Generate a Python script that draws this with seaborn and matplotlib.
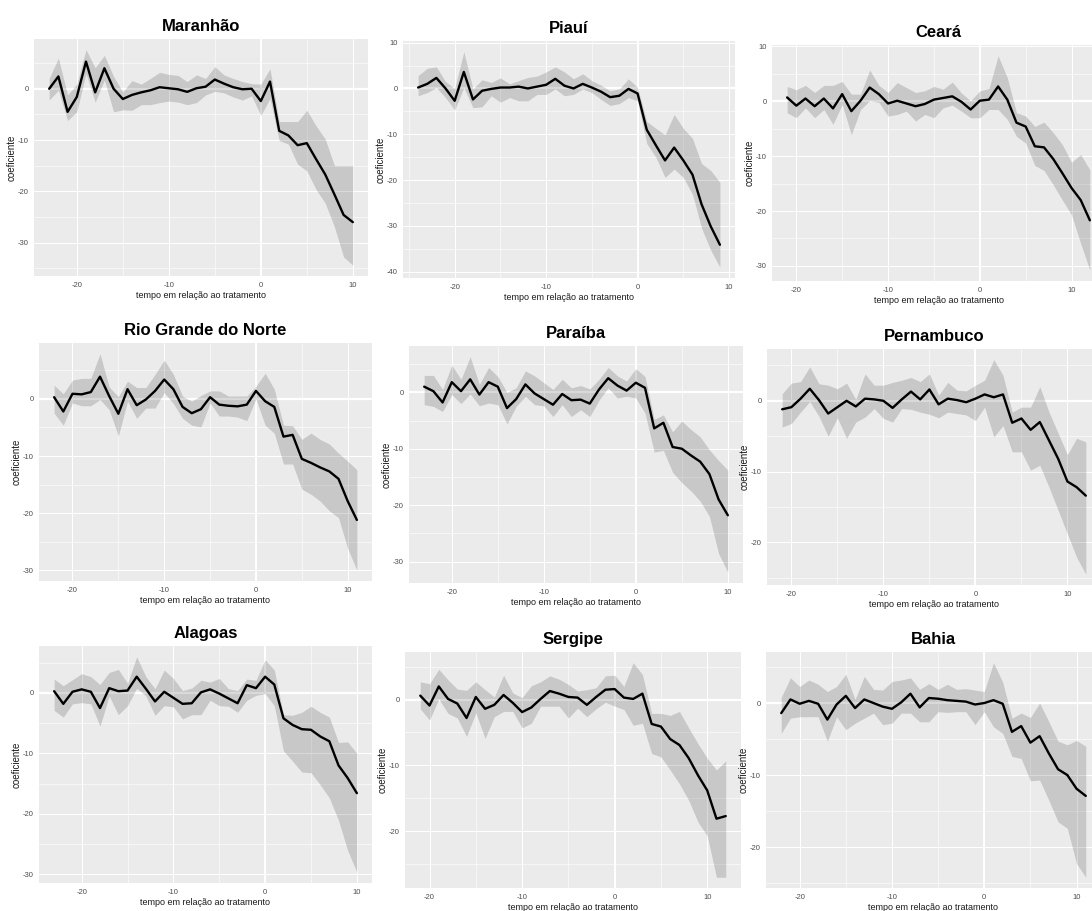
import matplotlib
matplotlib.use('Agg')
import matplotlib.pyplot as plt
from matplotlib.ticker import MultipleLocator
import seaborn as sns
import numpy as np

# coefficient and band (upper / lower) per state, one value per period
states = ['Maranhão', 'Piauí', 'Ceará', 'Rio Grande do Norte', 'Paraíba',
          'Pernambuco', 'Alagoas', 'Sergipe', 'Bahia']
first_period = [-23, -24, -21, -22, -23, -21, -23, -21, -22]

maranhao_coef = [0.0, 2.4, -4.5, -1.6, 5.3, -0.7, 4.0, 0.0, -2.0, -1.2,
                 -0.7, -0.3, 0.3, 0.1, -0.1, -0.6, 0.1, 0.4, 1.8, 1.0,
                 0.3, -0.1, 0.0, -2.4, 1.4, -8.2, -9.1, -11.0, -10.6, -13.7,
                 -16.7, -20.6, -24.6, -26.0]
maranhao_upper = [2.0, 6.0, -1.2, 0.9, 7.6, 4.1, 6.5, 2.4, -0.6, 1.6,
                  0.9, 2.0, 3.2, 2.8, 2.6, 1.4, 2.7, 2.0, 4.3, 2.7,
                  2.0, 1.4, 1.0, 0.9, 3.9, -6.4, -6.4, -6.4, -4.2, -7.2,
                  -9.8, -15.0, -15.0, -15.0]
maranhao_lower = [-2.2, -0.3, -6.2, -4.5, 3.0, -2.6, 1.7, -4.5, -4.1, -4.2,
                  -3.1, -3.1, -2.7, -2.4, -2.6, -3.1, -2.7, -1.2, -0.5, -0.8,
                  -1.6, -2.2, -1.4, -5.2, -1.9, -10.1, -10.8, -14.7, -16.0, -19.6,
                  -22.3, -26.9, -32.8, -34.4]

piaui_coef = [0.2, 1.0, 2.3, 0.0, -2.7, 3.6, -2.4, -0.5, -0.1, 0.2,
              0.2, 0.4, 0.0, 0.4, 0.8, 2.1, 0.6, 0.0, 1.0, 0.2,
              -0.7, -1.9, -1.6, -0.1, -1.1, -9.0, -12.4, -15.7, -12.9, -15.7,
              -18.8, -25.3, -30.1, -34.1]
piaui_upper = [2.8, 4.4, 4.7, 1.5, 0.0, 8.0, -0.1, 1.9, 1.3, 2.3,
               1.0, 1.7, 2.4, 2.7, 3.6, 4.7, 3.6, 2.1, 3.2, 1.7,
               0.7, -0.5, -0.1, 2.1, 0.2, -7.2, -8.7, -10.1, -5.7, -8.7,
               -10.9, -16.4, -17.9, -20.5]
piaui_lower = [-1.6, -0.9, 0.2, -2.0, -4.7, 0.2, -4.2, -4.0, -1.6, -3.0,
               -2.0, -2.7, -2.7, -1.3, -1.3, -0.1, -1.6, -1.3, -0.1, -0.9,
               -2.4, -3.7, -3.3, -2.0, -2.7, -12.0, -15.0, -19.4, -17.6, -19.4,
               -23.1, -30.5, -35.3, -39.0]

ceara_coef = [0.7, -0.8, 0.5, -0.9, 0.5, -1.3, 1.3, -1.8, 0.1, 2.5,
              1.3, -0.4, 0.1, -0.4, -0.9, -0.5, 0.3, 0.6, 0.9, -0.1,
              -1.5, 0.1, 0.3, 2.7, 0.3, -3.9, -4.6, -8.2, -8.4, -10.5,
              -13.1, -15.8, -18.0, -21.7]
ceara_upper = [2.7, 2.1, 2.9, 1.6, 2.9, 2.9, 3.6, 1.3, 1.3, 5.7,
               2.9, 1.6, 3.4, 2.5, 1.6, 1.9, 2.7, 2.2, 3.5, 1.5,
               0.1, 1.9, 2.3, 8.3, 4.3, -2.1, -2.7, -4.6, -3.8, -5.7,
               -7.9, -11.1, -9.7, -12.5]
ceara_lower = [-2.1, -3.0, -1.2, -3.0, -1.5, -4.2, -0.6, -6.1, -1.5, 0.1,
               -0.2, -2.7, -2.4, -1.8, -3.6, -2.4, -3.0, -1.2, -0.7, -1.8,
               -3.0, -3.0, -1.5, -1.5, -3.3, -6.4, -7.6, -11.7, -12.6, -15.2,
               -18.0, -20.7, -25.9, -30.8]

rgn_coef = [0.3, -2.2, 0.9, 0.8, 1.2, 3.9, 0.5, -2.6, 1.7, -1.1,
            -0.1, 1.4, 3.4, 1.7, -1.4, -2.5, -1.8, 0.3, -1.0, -1.2,
            -1.3, -1.0, 1.4, -0.4, -1.4, -6.6, -6.3, -10.5, -11.2, -12.0,
            -12.7, -14.0, -17.9, -21.2]
rgn_upper = [2.4, 0.9, 3.3, 3.6, 3.6, 7.9, 2.1, 0.4, 3.1, 2.0,
             2.0, 4.3, 6.8, 4.3, 0.5, -0.4, 0.6, 1.4, 1.4, 0.5,
             0.5, 0.5, 2.2, 4.5, 1.7, -4.6, -4.7, -7.1, -6.0, -7.1,
             -7.9, -9.5, -10.9, -12.4]
rgn_lower = [-2.5, -4.6, -0.7, -1.2, -1.2, -0.1, -1.9, -6.5, -0.4, -3.4,
             -1.6, -1.6, 1.1, -0.8, -3.4, -4.6, -4.9, -0.7, -3.0, -3.0,
             -3.2, -3.8, 0.0, -4.6, -6.0, -11.4, -11.4, -15.8, -16.7, -17.9,
             -19.6, -20.8, -26.2, -30.0]

paraiba_coef = [1.0, 0.2, -1.8, 1.8, 0.2, 2.3, -0.4, 1.8, 1.0, -2.8,
                -1.2, 1.4, -0.2, -1.2, -2.2, -0.3, -1.4, -1.3, -2.0, 0.5,
                2.5, 1.2, 0.3, 1.7, 0.8, -6.4, -5.4, -9.7, -10.0, -11.2,
                -12.3, -14.5, -19.0, -21.8]
paraiba_upper = [3.0, 3.0, 0.5, 4.8, 2.3, 6.3, 1.4, 4.4, 2.8, 0.0,
                 0.8, 3.8, 2.9, 1.7, 0.5, 2.3, 0.8, 1.2, 0.6, 2.3,
                 4.4, 2.9, 2.0, 4.2, 2.8, -4.8, -4.0, -7.0, -5.1, -6.6,
                 -7.9, -10.2, -12.1, -13.8]
paraiba_lower = [-2.2, -2.5, -3.4, -0.4, -2.0, -0.3, -2.4, -1.9, -2.2, -5.6,
                 -2.5, -0.7, -2.2, -2.4, -4.3, -2.2, -4.3, -3.1, -4.3, -1.4,
                 0.8, -1.0, -0.7, -1.0, -3.7, -10.6, -10.3, -14.2, -16.0, -17.5,
                 -19.3, -22.0, -28.6, -31.9]

pernambuco_coef = [-1.2, -0.9, 0.3, 1.7, 0.1, -1.8, -0.9, 0.0, -0.8, 0.3,
                   0.2, 0.0, -1.0, 0.2, 1.3, 0.2, 1.6, -0.5, 0.3, 0.1,
                   -0.2, 0.3, 0.9, 0.5, 0.9, -3.1, -2.5, -4.1, -3.0, -5.6,
                   -8.2, -11.4, -12.2, -13.4]
pernambuco_upper = [1.0, 2.5, 2.7, 4.8, 2.4, 2.2, 1.7, 2.5, 0.2, 3.8,
                    2.2, 2.2, 2.6, 2.9, 3.3, 2.7, 3.8, 0.8, 2.6, 1.5,
                    1.4, 2.2, 2.9, 5.8, 3.6, -1.6, -0.9, -0.9, 2.0, -1.6,
                    -4.6, -7.6, -5.3, -5.8]
pernambuco_lower = [-3.7, -3.2, -1.6, -0.1, -2.2, -5.0, -2.4, -5.3, -3.0, -2.3,
                    -1.1, -2.5, -3.0, -1.1, -1.2, -1.6, -1.9, -2.4, -1.6, -1.8,
                    -2.0, -2.8, -0.9, -5.1, -3.5, -7.2, -7.2, -9.8, -9.1, -12.2,
                    -15.5, -18.8, -22.1, -24.5]

alagoas_coef = [0.3, -1.8, 0.2, 0.6, 0.2, -2.5, 0.8, 0.3, 0.4, 2.7,
                0.7, -1.4, 0.2, -0.8, -1.8, -1.7, 0.1, 0.6, -0.1, -0.9,
                -1.7, 1.3, 0.8, 2.7, 1.4, -4.2, -5.3, -6.0, -6.1, -7.2,
                -8.0, -12.0, -14.1, -16.6]
alagoas_upper = [2.3, 1.2, 2.2, 3.2, 2.7, 1.4, 3.4, 3.9, 1.6, 6.0,
                 2.7, 0.7, 3.8, 2.4, 0.4, 0.8, 2.1, 1.8, 2.4, 0.7,
                 0.4, 2.3, 2.1, 5.5, 3.8, -3.6, -3.7, -3.2, -2.2, -3.2,
                 -4.0, -8.2, -8.1, -10.0]
alagoas_lower = [-2.9, -4.0, -1.8, -1.6, -1.8, -5.5, -0.5, -3.6, -2.1, 0.8,
                 -0.5, -3.7, -2.1, -2.3, -4.3, -3.6, -3.6, -1.2, -2.1, -2.2,
                 -3.2, -1.2, -0.4, -0.1, -2.1, -9.6, -11.3, -13.1, -13.2, -15.2,
                 -17.4, -21.1, -26.1, -29.7]

sergipe_coef = [0.6, -0.9, 2.0, 0.1, -0.6, -2.8, 0.4, -1.4, -0.8, 0.7,
                -0.5, -1.9, -1.2, 0.1, 1.3, 0.9, 0.4, 0.3, -0.8, 0.4,
                1.5, 1.6, 0.3, 0.1, 0.9, -3.7, -4.1, -6.0, -6.9, -8.9,
                -11.5, -13.8, -18.1, -17.7]
sergipe_upper = [2.7, 2.4, 4.6, 3.0, 1.6, 1.4, 2.7, 1.5, 0.4, 3.7,
                 1.0, 0.3, 2.1, 2.7, 3.6, 3.1, 2.3, 1.3, 1.5, 1.8,
                 3.6, 3.7, 2.0, 5.6, 3.8, -2.1, -2.1, -2.4, -1.8, -4.3,
                 -6.7, -8.9, -10.7, -9.3]
sergipe_lower = [-1.4, -3.1, 0.1, -2.1, -2.8, -5.6, -2.0, -5.9, -2.6, -1.8,
                 -1.8, -4.3, -3.6, -1.0, -1.0, -1.0, -2.8, -1.3, -2.6, -1.4,
                 -0.4, -1.0, -1.5, -3.9, -3.6, -8.2, -8.7, -10.7, -12.8, -15.3,
                 -18.6, -20.7, -27.0, -27.0]

bahia_coef = [-1.4, 0.5, -0.1, 0.3, -0.1, -2.3, -0.2, 1.0, -0.7, 0.5,
              0.0, -0.5, -0.8, 0.1, 1.3, -0.6, 0.7, 0.6, 0.4, 0.3,
              0.2, -0.2, 0.0, 0.4, -0.1, -4.0, -3.2, -5.5, -4.6, -7.0,
              -9.2, -10.0, -11.9, -12.9]
bahia_upper = [0.8, 3.5, 2.3, 3.2, 2.6, 1.6, 2.3, 4.0, 0.5, 3.7,
               1.9, 1.8, 3.0, 3.2, 3.5, 1.9, 2.7, 1.9, 2.6, 1.9,
               2.0, 1.8, 1.6, 5.6, 2.9, -2.1, -1.4, -2.0, 0.0, -2.6,
               -5.3, -5.8, -5.2, -6.0]
bahia_lower = [-4.2, -2.1, -1.9, -1.9, -1.9, -5.3, -1.9, -3.7, -2.8, -2.1,
               -1.4, -3.0, -2.8, -1.4, -1.4, -2.6, -2.6, -1.2, -1.3, -1.2,
               -1.2, -3.0, -1.2, -3.3, -4.2, -7.4, -7.7, -10.8, -10.7, -13.5,
               -16.5, -17.4, -22.3, -24.2]

coefs = [maranhao_coef, piaui_coef, ceara_coef, rgn_coef, paraiba_coef,
         pernambuco_coef, alagoas_coef, sergipe_coef, bahia_coef]
uppers = [maranhao_upper, piaui_upper, ceara_upper, rgn_upper, paraiba_upper,
          pernambuco_upper, alagoas_upper, sergipe_upper, bahia_upper]
lowers = [maranhao_lower, piaui_lower, ceara_lower, rgn_lower, paraiba_lower,
          pernambuco_lower, alagoas_lower, sergipe_lower, bahia_lower]

# panel boxes in pixels (left, top, right, bottom); some run past the right edge
W, H = 1092, 911
boxes = [(34, 39, 368, 276), (403, 41, 735, 278), (772, 45, 1105, 281),
         (39, 343, 372, 581), (409, 346, 743, 583), (767, 349, 1101, 585),
         (39, 646, 372, 883), (405, 652, 741, 888), (766, 652, 1101, 888)]

sns.set_theme(style='darkgrid')
plt.rcParams['font.family'] = ['Liberation Sans Narrow', 'Liberation Sans', 'DejaVu Sans']
plt.rcParams['axes.unicode_minus'] = False

fig = plt.figure(figsize=(W / 100, H / 100), dpi=100)
fig.patch.set_facecolor('white')

for name, t0, coef, upper, lower, (x0, y0, x1, y1) in zip(
        states, first_period, coefs, uppers, lowers, boxes):
    ax = fig.add_axes([x0 / W, 1 - y1 / H, (x1 - x0) / W, (y1 - y0) / H])
    t = np.arange(t0, t0 + len(coef))
    ax.set_facecolor('#EBEBEB')
    ax.set_axisbelow(True)

    # reference lines at zero, drawn under the ribbon like the ggplot original
    ax.axhline(0, color='white', lw=1.6, zorder=1)
    ax.axvline(0, color='white', lw=1.4, zorder=1)
    ax.fill_between(t, lower, upper, color='black', alpha=0.15, lw=0, zorder=2)
    sns.lineplot(x=t, y=coef, ax=ax, color='black', linewidth=1.7, zorder=3)

    # ggplot-style 5% expansion
    xr = t[-1] - t[0]
    ax.set_xlim(t[0] - 0.05 * xr, t[-1] + 0.05 * xr)
    lo, hi = min(lower), max(upper)
    ax.set_ylim(lo - 0.05 * (hi - lo), hi + 0.05 * (hi - lo))

    ax.xaxis.set_major_locator(MultipleLocator(10))
    ax.xaxis.set_minor_locator(MultipleLocator(5))
    ax.yaxis.set_major_locator(MultipleLocator(10))
    ax.yaxis.set_minor_locator(MultipleLocator(5))
    ax.grid(which='major', color='white', lw=0.75)
    ax.grid(which='minor', color='white', lw=0.4)
    for s in ax.spines.values():
        s.set_visible(False)
    ax.tick_params(which='major', length=2.5, width=0.6, color='#333333',
                   labelsize=5.5, labelcolor='#4D4D4D', pad=1.5)
    ax.tick_params(which='minor', length=0)

    ax.set_title(name, fontsize=12, fontweight='bold', color='black', pad=6)
    ax.set_xlabel('tempo em relação ao tratamento', fontsize=6.5,
                  color='#1A1A1A', labelpad=1.5)
    ax.set_ylabel('coeficiente', fontsize=7, color='#1A1A1A', labelpad=1)

fig.savefig('out.png', dpi=100)
